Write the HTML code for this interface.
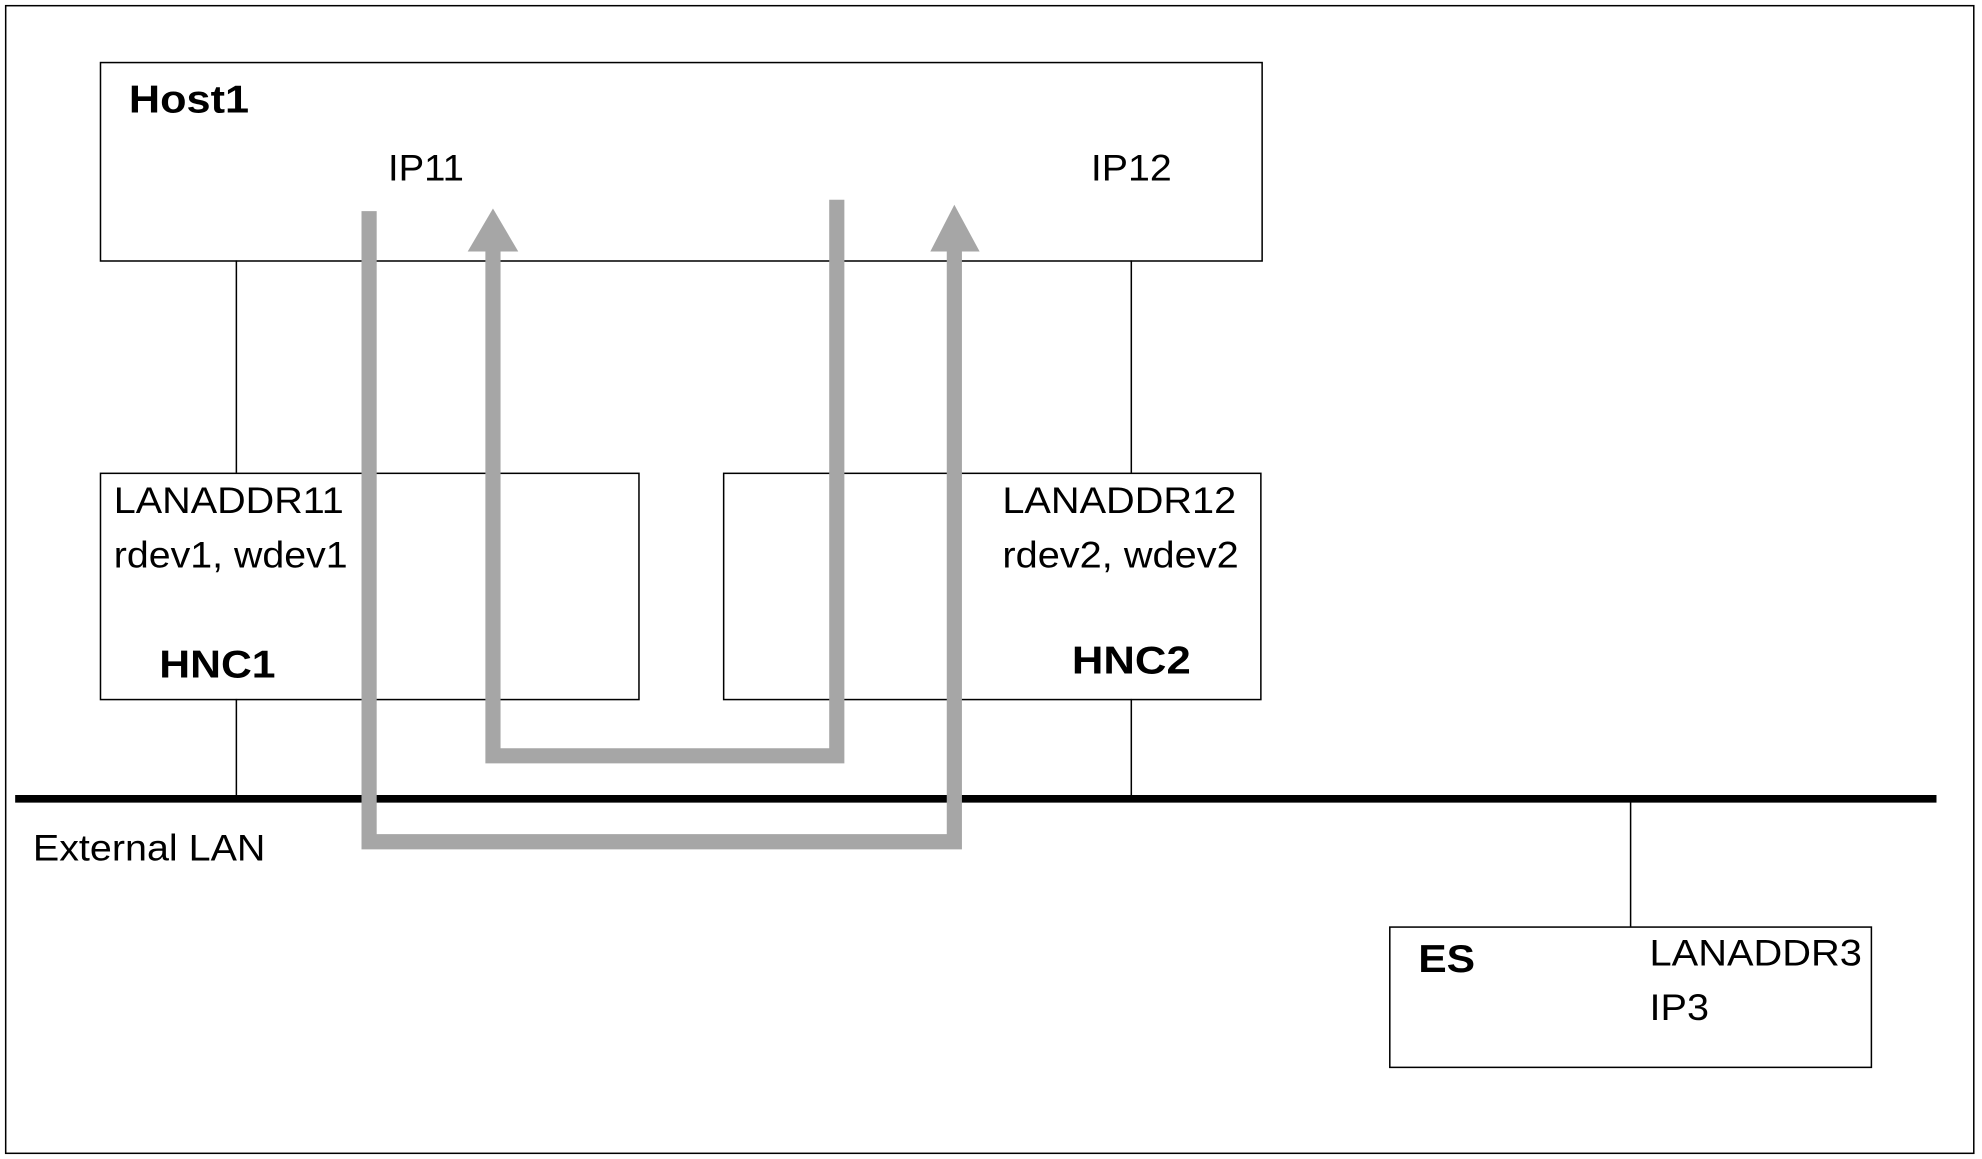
<!DOCTYPE html>
<html><head><meta charset="utf-8"><style>html,body{margin:0;padding:0;background:#fff}svg{display:block}</style></head>
<body>
<svg width="1982" height="1159" viewBox="0 0 1568 917" preserveAspectRatio="none" xmlns="http://www.w3.org/2000/svg" font-family="Liberation Sans, Arial, sans-serif">
<rect x="4.5" y="4.5" width="1557" height="908" fill="#fff" stroke="#000" stroke-width="1.2"/>
<rect x="79.5" y="49.5" width="919" height="157" fill="none" stroke="#000" stroke-width="1.2"/>
<rect x="79.5" y="374.5" width="426" height="179" fill="none" stroke="#000" stroke-width="1.2"/>
<rect x="572.5" y="374.5" width="425" height="179" fill="none" stroke="#000" stroke-width="1.2"/>
<rect x="1099.5" y="733.5" width="381" height="111" fill="none" stroke="#000" stroke-width="1.2"/>
<g stroke="#000" stroke-width="1.2">
<line x1="187" y1="206" x2="187" y2="374"/><line x1="187" y1="553" x2="187" y2="632"/>
<line x1="895" y1="206" x2="895" y2="374"/><line x1="895" y1="553" x2="895" y2="632"/>
<line x1="1290" y1="632" x2="1290" y2="733"/>
</g>
<line x1="12" y1="632" x2="1532" y2="632" stroke="#000" stroke-width="6"/>
<g fill="none" stroke="#a6a6a6" stroke-width="12" stroke-linejoin="miter">
<polyline points="292,167 292,666 755,666 755,196"/>
<polyline points="662,158 662,598 390,598 390,196"/>
</g>
<g fill="#a6a6a6">
<polygon points="755,162 736,199 775,199"/>
<polygon points="390,165 370,199 410,199"/>
</g>
<g font-size="29" fill="#000" lengthAdjust="spacingAndGlyphs">
<text x="102" y="89" font-weight="bold" font-size="31" textLength="95" lengthAdjust="spacingAndGlyphs">Host1</text>
<text x="307" y="143" textLength="60" lengthAdjust="spacingAndGlyphs">IP11</text>
<text x="863" y="143" textLength="64" lengthAdjust="spacingAndGlyphs">IP12</text>
<text x="90" y="406" textLength="182" lengthAdjust="spacingAndGlyphs">LANADDR11</text>
<text x="90" y="449" textLength="185" lengthAdjust="spacingAndGlyphs">rdev1, wdev1</text>
<text x="126" y="536" font-weight="bold" font-size="31" textLength="92" lengthAdjust="spacingAndGlyphs">HNC1</text>
<text x="793" y="406" textLength="185" lengthAdjust="spacingAndGlyphs">LANADDR12</text>
<text x="793" y="449" textLength="187" lengthAdjust="spacingAndGlyphs">rdev2, wdev2</text>
<text x="848" y="533" font-weight="bold" font-size="31" textLength="94" lengthAdjust="spacingAndGlyphs">HNC2</text>
<text x="26" y="681" textLength="184" lengthAdjust="spacingAndGlyphs">External LAN</text>
<text x="1122" y="769" font-weight="bold" font-size="31" textLength="45" lengthAdjust="spacingAndGlyphs">ES</text>
<text x="1305" y="764" textLength="168" lengthAdjust="spacingAndGlyphs">LANADDR3</text>
<text x="1305" y="807" textLength="47" lengthAdjust="spacingAndGlyphs">IP3</text>
</g>
</svg>
</body></html>
